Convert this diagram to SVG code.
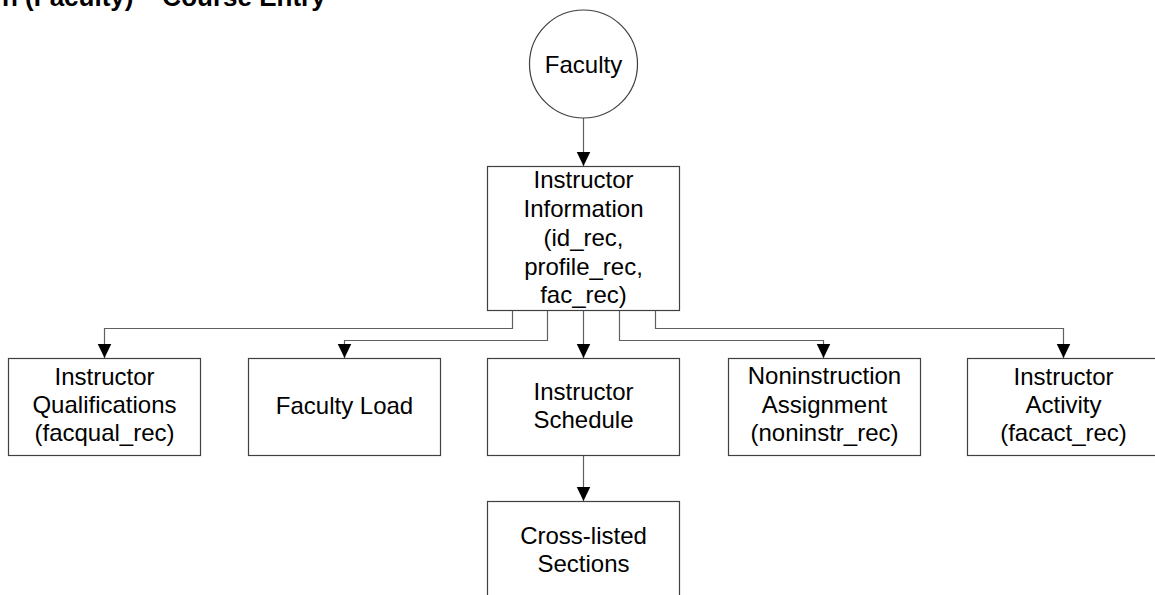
<svg xmlns="http://www.w3.org/2000/svg" width="1155" height="595" viewBox="0 0 1155 595">
  <style>
    .box { fill: #ffffff; stroke: #404040; stroke-width: 1.2; }
    .lbl { font-family: "Liberation Sans", Arial, sans-serif; font-size: 24px; fill: #000000; text-anchor: middle; }
    .title { font-family: "Liberation Sans", Arial, sans-serif; font-size: 26px; font-weight: bold; fill: #000000; }
    .conn { fill: none; stroke: #606060; stroke-width: 1.2; marker-end: url(#arrow); }
  </style>
  <defs>
    <marker id="arrow" markerUnits="userSpaceOnUse" markerWidth="15" markerHeight="15" refX="14.5" refY="7" orient="auto">
      <path d="M0,0 L14.5,7 L0,14 Z" fill="#000000"/>
    </marker>
  </defs>

  <rect width="1155" height="595" fill="#ffffff"/>

  <text class="title" x="2" y="6">n (Faculty) – Course Entry</text>

  <!-- connectors -->
  <g id="connectors">
    <path class="conn" d="M583.5 118 V166"/>
    <path class="conn" d="M583.5 310 V358"/>
    <path class="conn" d="M512.5 310 V328.5 H104.5 V358"/>
    <path class="conn" d="M547.5 310 V340.5 H344.5 V358"/>
    <path class="conn" d="M619.5 310 V340.5 H823.5 V358"/>
    <path class="conn" d="M655.5 310 V328.5 H1063.5 V358"/>
    <path class="conn" d="M583.5 455 V501"/>
  </g>

  <!-- Faculty -->
  <g id="faculty">
    <circle cx="583.5" cy="64" r="54" class="box"/>
    <text class="lbl" x="583.5" y="73">Faculty</text>
  </g>

  <!-- Instructor Information -->
  <g id="instructor-information">
    <rect class="box" x="487.5" y="166.5" width="192" height="144"/>
    <text class="lbl" x="583.5" y="188">Instructor</text>
    <text class="lbl" x="583.5" y="217">Information</text>
    <text class="lbl" x="583.5" y="245.5">(id_rec,</text>
    <text class="lbl" x="583.5" y="274.5">profile_rec,</text>
    <text class="lbl" x="583.5" y="303">fac_rec)</text>
  </g>

  <!-- Instructor Qualifications -->
  <g id="instructor-qualifications">
    <rect class="box" x="8.5" y="358.5" width="192" height="97"/>
    <text class="lbl" x="104.5" y="385">Instructor</text>
    <text class="lbl" x="104.5" y="413">Qualifications</text>
    <text class="lbl" x="104.5" y="441">(facqual_rec)</text>
  </g>

  <!-- Faculty Load -->
  <g id="faculty-load">
    <rect class="box" x="248.5" y="358.5" width="192" height="97"/>
    <text class="lbl" x="344.5" y="414">Faculty Load</text>
  </g>

  <!-- Instructor Schedule -->
  <g id="instructor-schedule">
    <rect class="box" x="487.5" y="358.5" width="192" height="97"/>
    <text class="lbl" x="583.5" y="400">Instructor</text>
    <text class="lbl" x="583.5" y="427.5">Schedule</text>
  </g>

  <!-- Noninstruction Assignment -->
  <g id="noninstruction-assignment">
    <rect class="box" x="728.5" y="358.5" width="192" height="97"/>
    <text class="lbl" x="824.5" y="384">Noninstruction</text>
    <text class="lbl" x="824.5" y="412.5">Assignment</text>
    <text class="lbl" x="824.5" y="440.5">(noninstr_rec)</text>
  </g>

  <!-- Instructor Activity -->
  <g id="instructor-activity">
    <rect class="box" x="967.5" y="358.5" width="192" height="97"/>
    <text class="lbl" x="1063.5" y="385">Instructor</text>
    <text class="lbl" x="1063.5" y="413">Activity</text>
    <text class="lbl" x="1063.5" y="441">(facact_rec)</text>
  </g>

  <!-- Cross-listed Sections -->
  <g id="cross-listed-sections">
    <rect class="box" x="487.5" y="501.5" width="192" height="120"/>
    <text class="lbl" x="583.5" y="543.5">Cross-listed</text>
    <text class="lbl" x="583.5" y="572">Sections</text>
  </g>
</svg>
